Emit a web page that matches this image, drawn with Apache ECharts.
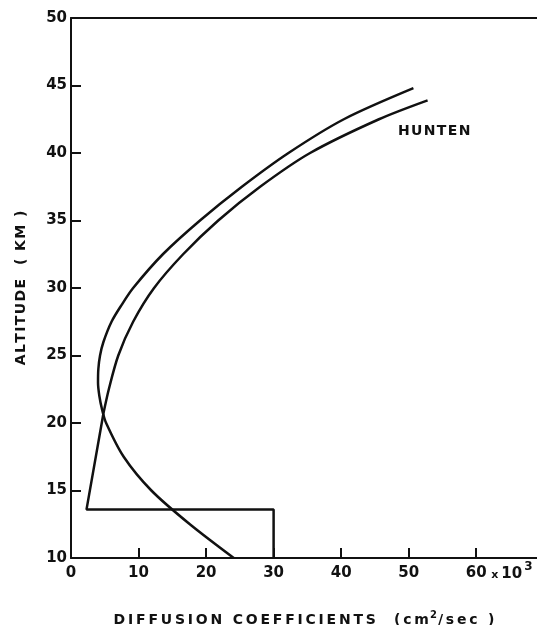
<!DOCTYPE html>
<html>
<head>
<meta charset="utf-8">
<script src="https://cdn.jsdelivr.net/npm/echarts@6/dist/echarts.min.js"></script>
<style>
  html, body { margin: 0; padding: 0; background: #fff; }
  #chart { width: 537px; height: 625px; }
</style>
</head>
<body>
<div id="chart"></div>
<script>
// x: diffusion coefficient (x 10^3 cm2/sec), y: altitude (km)
const curveA = [
  [24.1, 10], [17.6, 12.5], [11.9, 15], [7.8, 17.5], [5.2, 20],
  [4.6, 21], [4.2, 22], [4.0, 23], [4.05, 24], [4.3, 25], [4.8, 26],
  [6.0, 27.5], [7.5, 28.75], [9.2, 30], [13.6, 32.5], [19.1, 35],
  [25.3, 37.5], [32.2, 40], [40.4, 42.5], [50.7, 44.8]
];
// step profile below the crossing point
const curveBStep = [[30, 10], [30, 13.6], [2.3, 13.6], [4.8, 20.7]];
const curveB = [
  [4.8, 20.7], [5.6, 22.5], [7.0, 25], [9.2, 27.5], [12.3, 30],
  [16.6, 32.5], [21.8, 35], [28.0, 37.5], [35.4, 40], [45.6, 42.5],
  [52.8, 43.9]
];
const curveLabel = { text: 'HUNTEN', x: 48.4, y: 41.6 };
const xTickLabels = ['0', '10', '20', '30', '40', '50', '60'];

const font = 'DejaVu Sans';
const ink = '#111';
// the original lettering is widely spaced
const spaced = (s, sp) => s.split('').join(sp);
const thin = '\u2009';
const hair = '\u200A';

const chart = echarts.init(document.getElementById('chart'));

const lineStyle = { color: ink, width: 2.5 };

const option = {
  animation: false,
  backgroundColor: '#fff',
  grid: { left: 71, top: 18, right: 0, bottom: 67, outerBoundsMode: 'none' },
  xAxis: [{
    type: 'value',
    min: 0,
    max: 69,
    interval: 10,
    name: '{t|' + spaced('DIFFUSION COEFFICIENTS  (cm', thin) + '}{sup|2}{t|' + spaced('/sec )', thin) + '}',
    nameLocation: 'middle',
    nameGap: 52,
    nameTextStyle: {
      color: ink, fontFamily: font, fontWeight: 'bold', fontSize: 14,
      rich: {
        t: { color: ink, fontFamily: font, fontWeight: 'bold', fontSize: 14 },
        sup: { color: ink, fontFamily: font, fontWeight: 'bold', fontSize: 10, padding: [0, 1, 10, 1] }
      }
    },
    axisLine: { lineStyle: { color: ink, width: 2 } },
    axisTick: { inside: true, length: 10, lineStyle: { color: ink, width: 2 } },
    axisLabel: {
      color: ink, fontFamily: font, fontWeight: 'bold', fontSize: 15, margin: 8,
      showMaxLabel: false,
      formatter: v => xTickLabels[v / 10] || ''
    },
    splitLine: { show: false }
  }, {
    // top frame line
    type: 'value',
    position: 'top',
    min: 0,
    max: 69,
    axisLine: { show: true, lineStyle: { color: ink, width: 2 } },
    axisTick: { show: false },
    axisLabel: { show: false },
    splitLine: { show: false }
  }],
  yAxis: {
    type: 'value',
    min: 10,
    max: 50,
    interval: 5,
    name: spaced('ALTITUDE  ( KM )', hair),
    nameLocation: 'middle',
    nameRotate: 90,
    nameGap: 43,
    nameTextStyle: { color: ink, fontFamily: font, fontWeight: 'bold', fontSize: 14 },
    axisLine: { show: true, lineStyle: { color: ink, width: 2 } },
    axisTick: { inside: true, length: 10, lineStyle: { color: ink, width: 2 } },
    axisLabel: { color: ink, fontFamily: font, fontWeight: 'bold', fontSize: 15, margin: 4 },
    splitLine: { show: false }
  },
  series: [
    { type: 'line', data: curveA, smooth: 0.3, symbol: 'none', lineStyle },
    { type: 'line', data: curveBStep, symbol: 'none', lineStyle },
    { type: 'line', data: curveB, smooth: 0.3, symbol: 'none', lineStyle }
  ]
};
chart.setOption(option);

// curve name and the axis multiplier placed via the axis scales
const lp = chart.convertToPixel({ gridIndex: 0 }, [curveLabel.x, curveLabel.y]);
const up = chart.convertToPixel({ gridIndex: 0 }, [60, 10]);
chart.setOption({
  graphic: [
    {
      type: 'text', x: lp[0], y: lp[1],
      style: { text: spaced(curveLabel.text, hair), fill: ink, font: 'bold 14px "' + font + '"',
        verticalAlign: 'middle', textAlign: 'left' }
    },
    {
      type: 'text', x: up[0] + 15, y: up[1] + 16,
      style: {
        text: '{x|x}{n|10}{s|3}',
        verticalAlign: 'middle', textAlign: 'left',
        rich: {
          x: { fill: ink, fontFamily: font, fontWeight: 'bold', fontSize: 11, padding: [2, 3, 0, 0] },
          n: { fill: ink, fontFamily: font, fontWeight: 'bold', fontSize: 15 },
          s: { fill: ink, fontFamily: font, fontWeight: 'bold', fontSize: 12, padding: [0, 0, 14, 2] }
        }
      }
    }
  ]
});
</script>
</body>
</html>
